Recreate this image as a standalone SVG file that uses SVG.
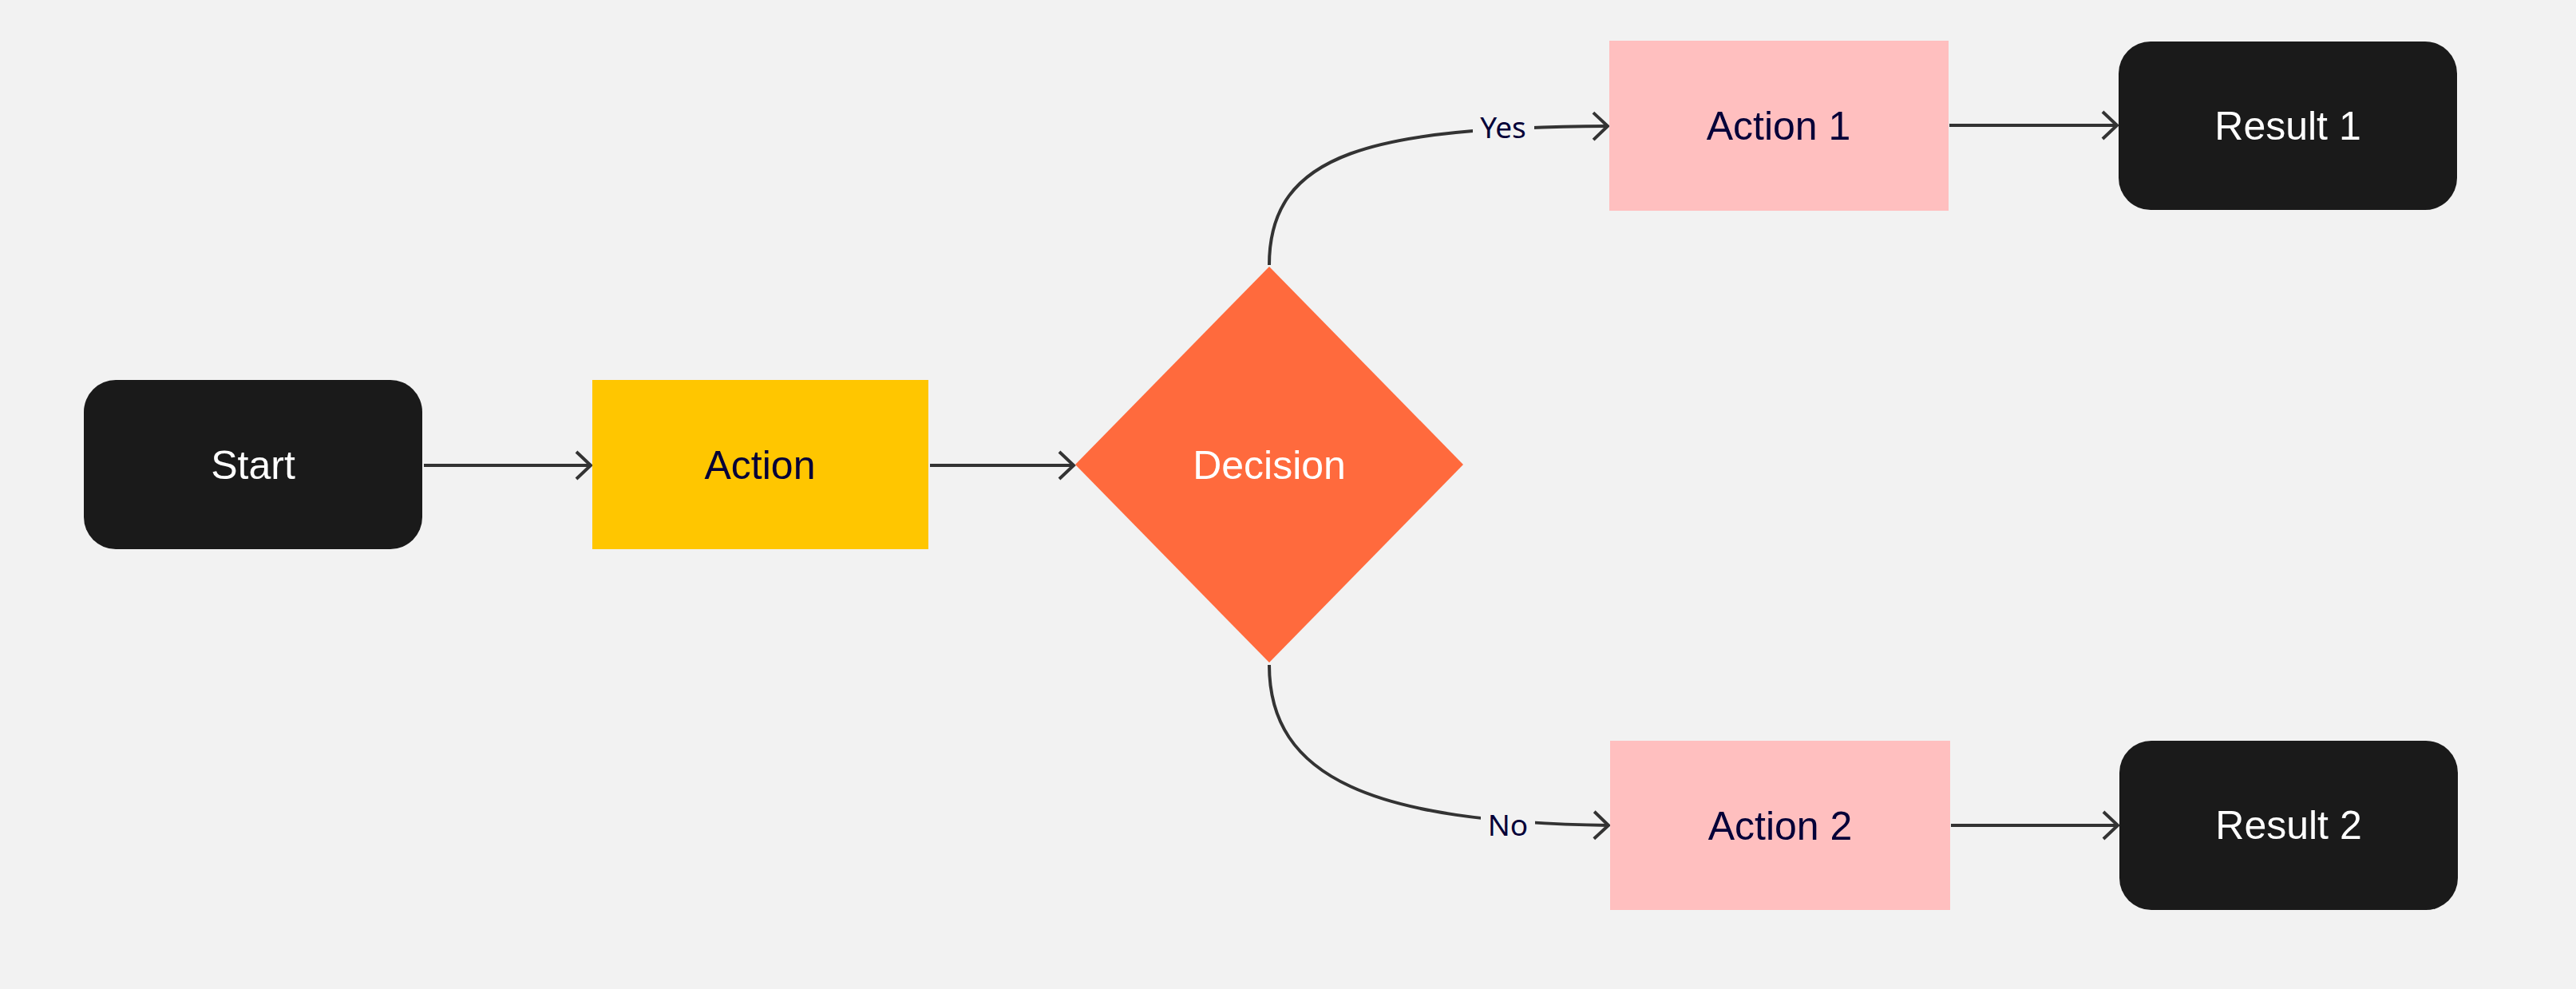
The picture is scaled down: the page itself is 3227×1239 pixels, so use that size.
<svg xmlns="http://www.w3.org/2000/svg" width="3227" height="1239" viewBox="0 0 3227 1239">
  <defs>
    <style>
      .term { fill: #1a1a1a; }
      .proc { fill: #ffc600; }
      .sub { fill: #ffbfbf; }
      .dec { fill: #ff6a3d; }
      .lbl { font-family: "Liberation Sans", Arial, sans-serif; font-size: 50px; text-anchor: middle; }
      .light { fill: #ffffff; }
      .dark { fill: #050038; }
      .edge { fill: none; stroke: #333333; stroke-width: 4; }
      .elbl { font-family: "Noto Sans", "Open Sans", sans-serif; font-size: 37px; fill: #050038; text-anchor: middle; }
      .ebg { fill: #f2f2f2; }
    </style>
    <marker id="arrow" markerUnits="userSpaceOnUse" markerWidth="40" markerHeight="40" viewBox="-22 -20 26 40" refX="0" refY="0" orient="auto">
      <path d="M-18,-17 L0,0 L-18,17" fill="none" stroke="#333333" stroke-width="4"/>
    </marker>
  </defs>
  <rect x="0" y="0" width="3227" height="1239" fill="#f2f2f2"/>

  <g id="connectors">
    <line class="edge" x1="531" y1="583" x2="740" y2="583" marker-end="url(#arrow)"/>
    <line class="edge" x1="1165" y1="583" x2="1345" y2="583" marker-end="url(#arrow)"/>
    <path class="edge" d="M1590,332 C1590,190 1720,160 2014,158" marker-end="url(#arrow)"/>
    <path class="edge" d="M1590,833 C1590,975 1720,1030 2015,1034" marker-end="url(#arrow)"/>
    <line class="edge" x1="2442" y1="157" x2="2652" y2="157" marker-end="url(#arrow)"/>
    <line class="edge" x1="2444" y1="1034" x2="2653" y2="1034" marker-end="url(#arrow)"/>
    <g id="label-yes">
      <rect class="ebg" x="1845" y="136" width="77" height="46"/>
      <text class="elbl" x="1883" y="173">Yes</text>
    </g>
    <g id="label-no">
      <rect class="ebg" x="1855" y="1010" width="68" height="48"/>
      <text class="elbl" x="1889" y="1047">No</text>
    </g>
  </g>

  <g id="node-start">
    <rect class="term" x="105" y="476" width="424" height="212" rx="40" ry="40"/>
    <text class="lbl light" x="317" y="600">Start</text>
  </g>
  <g id="node-action">
    <rect class="proc" x="742" y="476" width="421" height="212"/>
    <text class="lbl dark" x="952" y="600">Action</text>
  </g>
  <g id="node-decision">
    <polygon class="dec" points="1590,334 1833,582 1590,830 1347,582"/>
    <text class="lbl light" x="1590" y="600">Decision</text>
  </g>
  <g id="node-action1">
    <rect class="sub" x="2016" y="51" width="425" height="213"/>
    <text class="lbl dark" x="2228" y="175">Action 1</text>
  </g>
  <g id="node-action2">
    <rect class="sub" x="2017" y="928" width="426" height="212"/>
    <text class="lbl dark" x="2230" y="1052">Action 2</text>
  </g>
  <g id="node-result1">
    <rect class="term" x="2654" y="52" width="424" height="211" rx="40" ry="40"/>
    <text class="lbl light" x="2866" y="175">Result 1</text>
  </g>
  <g id="node-result2">
    <rect class="term" x="2655" y="928" width="424" height="212" rx="40" ry="40"/>
    <text class="lbl light" x="2867" y="1051">Result 2</text>
  </g>
</svg>
